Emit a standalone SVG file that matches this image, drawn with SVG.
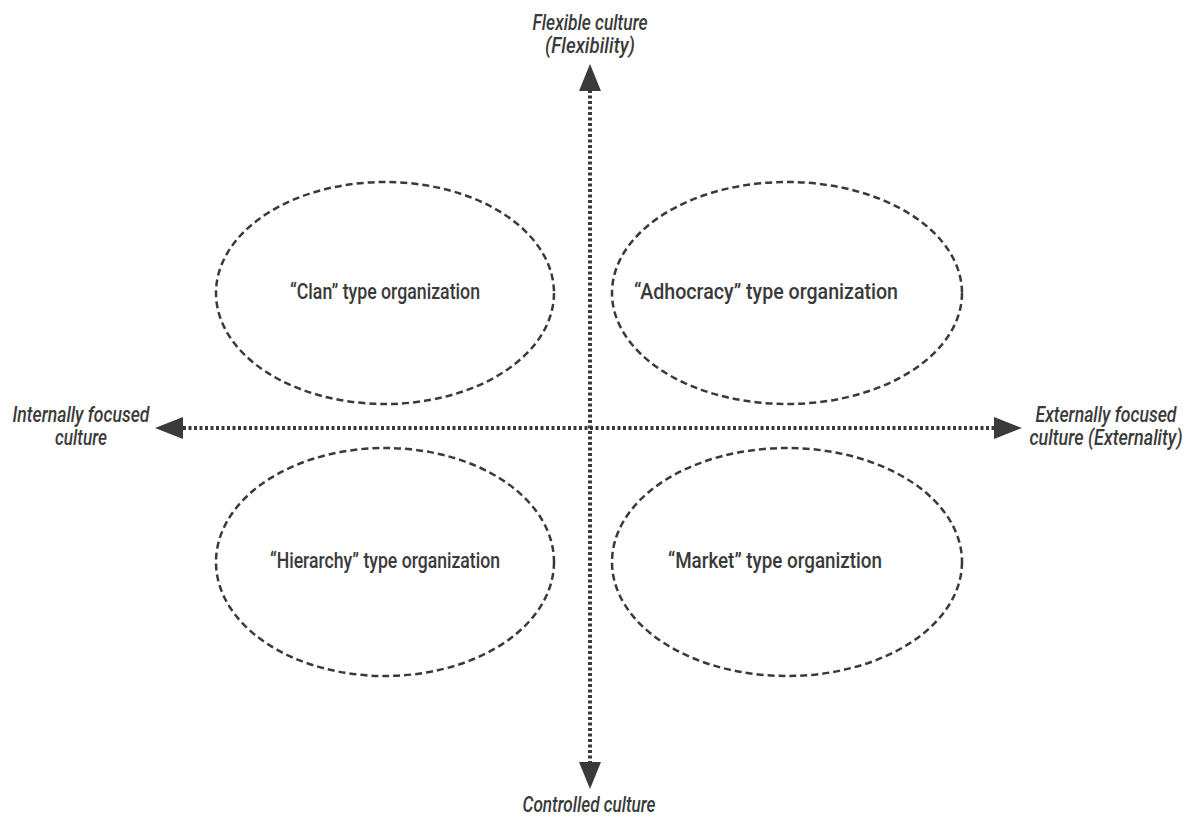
<svg xmlns="http://www.w3.org/2000/svg" width="1193" height="818" viewBox="0 0 1193 818">
<style>
.t{font-family:Roboto,"Liberation Sans",sans-serif;font-weight:500;fill:#3a3a3a;text-anchor:middle}
.lab{font-size:22px;font-style:italic}
.nd{font-size:22px}
.el{fill:none;stroke:#3a3a3a;stroke-width:2.5;stroke-dasharray:7 4}
.ax{stroke:#3a3a3a;stroke-width:4;fill:none;stroke-dasharray:3 2.5}
.ah{fill:#3a3a3a}
</style>
<rect width="1193" height="818" fill="#fff"/>
<g id="connectors">
<line class="ax" x1="590" y1="90" x2="590" y2="762"/>
<line class="ax" x1="183" y1="428" x2="994" y2="428"/>
<polygon class="ah" points="590,64 601,91 579,91"/>
<polygon class="ah" points="590,789 601,762 579,762"/>
<polygon class="ah" points="155,428 183,417 183,439"/>
<polygon class="ah" points="1022,428 994,417 994,439"/>
</g>
<g id="clan"><ellipse class="el" cx="385" cy="293" rx="169" ry="111"/><text class="t nd" x="385" y="299" textLength="190" lengthAdjust="spacingAndGlyphs">“Clan” type organization</text></g>
<g id="adhocracy"><ellipse class="el" cx="787" cy="293" rx="175" ry="111"/><text class="t nd" x="766" y="299" textLength="264" lengthAdjust="spacingAndGlyphs">“Adhocracy” type organization</text></g>
<g id="hierarchy"><ellipse class="el" cx="385" cy="562" rx="169" ry="114"/><text class="t nd" x="385" y="568" textLength="230" lengthAdjust="spacingAndGlyphs">“Hierarchy” type organization</text></g>
<g id="market"><ellipse class="el" cx="787" cy="562" rx="175" ry="114"/><text class="t nd" x="775" y="568" textLength="214" lengthAdjust="spacingAndGlyphs">“Market” type organiztion</text></g>
<g id="top"><text class="t lab" x="590" y="30" textLength="115" lengthAdjust="spacingAndGlyphs">Flexible culture</text><text class="t lab" x="590" y="53" textLength="90" lengthAdjust="spacingAndGlyphs">(Flexibility)</text></g>
<g id="bottom"><text class="t lab" x="589" y="812" textLength="133" lengthAdjust="spacingAndGlyphs">Controlled culture</text></g>
<g id="left"><text class="t lab" x="81" y="422" textLength="137" lengthAdjust="spacingAndGlyphs">Internally focused</text><text class="t lab" x="81" y="445" textLength="52" lengthAdjust="spacingAndGlyphs">culture</text></g>
<g id="right"><text class="t lab" x="1106" y="422" textLength="141" lengthAdjust="spacingAndGlyphs">Externally focused</text><text class="t lab" x="1106" y="445" textLength="153" lengthAdjust="spacingAndGlyphs">culture (Externality)</text></g>
</svg>
